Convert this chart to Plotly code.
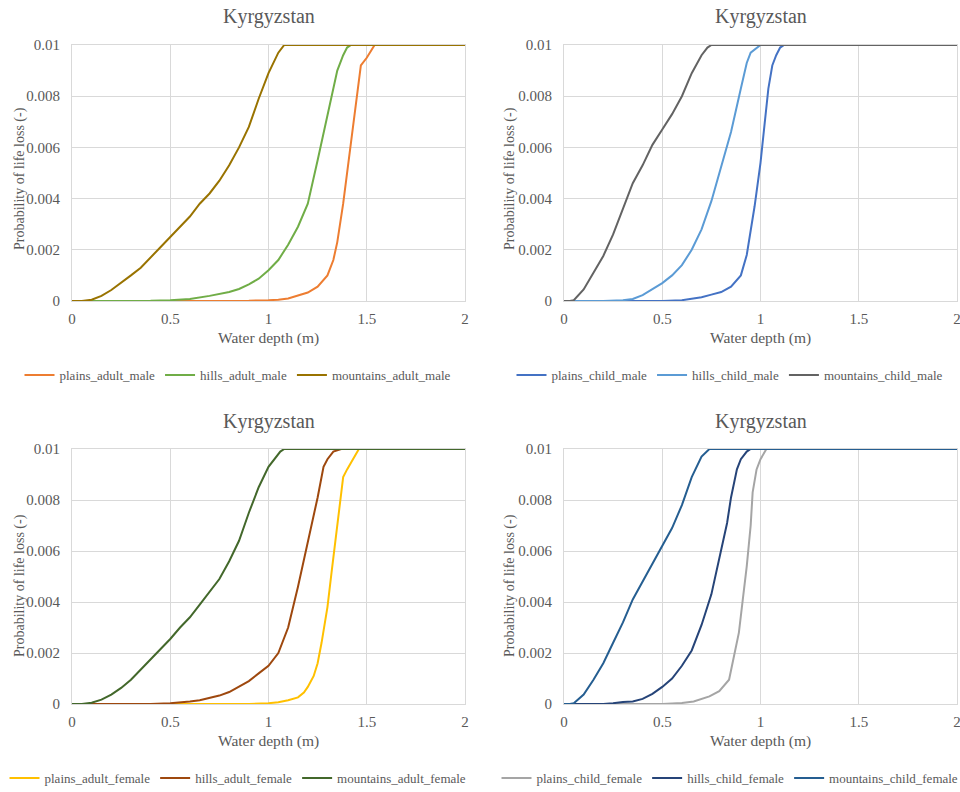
import plotly.graph_objects as go

# ---------------- data ----------------
x_ticks = [0, 0.5, 1, 1.5, 2]
x_tick_labels = ["0", "0.5", "1", "1.5", "2"]
y_ticks = [0, 0.002, 0.004, 0.006, 0.008, 0.01]
y_tick_labels = ["0", "0.002", "0.004", "0.006", "0.008", "0.01"]

chart_title = "Kyrgyzstan"
x_title = "Water depth (m)"
y_title = "Probability of life loss (-)"

# panel 1: adult male
plains_adult_male_x = [0, 0.8, 0.9, 1.0, 1.05, 1.1, 1.15, 1.2, 1.25, 1.3, 1.33, 1.35, 1.38, 1.4, 1.42, 1.45, 1.47, 1.5, 1.53, 1.54, 2.0]
plains_adult_male_y = [0, 0, 0.00001, 0.00003, 0.00005, 0.0001, 0.0002, 0.00033, 0.00056, 0.001, 0.0016, 0.0023, 0.0038, 0.005, 0.0062, 0.0079, 0.0092, 0.0095, 0.0099, 0.01, 0.01]
hills_adult_male_x = [0, 0.3, 0.4, 0.5, 0.6, 0.7, 0.75, 0.8, 0.85, 0.9, 0.95, 1.0, 1.05, 1.1, 1.15, 1.2, 1.25, 1.3, 1.33, 1.35, 1.38, 1.4, 1.42, 2.0]
hills_adult_male_y = [0, 0, 0.00001, 0.00003, 0.00008, 0.0002, 0.00028, 0.00035, 0.00047, 0.00065, 0.00087, 0.0012, 0.0016, 0.0022, 0.0029, 0.0038, 0.0055, 0.0072, 0.0083, 0.009, 0.0096, 0.0099, 0.01, 0.01]
mountains_adult_male_x = [0, 0.05, 0.1, 0.15, 0.2, 0.25, 0.3, 0.35, 0.4, 0.45, 0.5, 0.55, 0.6, 0.65, 0.7, 0.75, 0.8, 0.85, 0.9, 0.95, 1.0, 1.05, 1.08, 2.0]
mountains_adult_male_y = [0, 0, 0.00005, 0.0002, 0.00043, 0.0007, 0.001, 0.0013, 0.00168, 0.0021, 0.0025, 0.0029, 0.0033, 0.0038, 0.0042, 0.0047, 0.0053, 0.006, 0.0068, 0.0079, 0.0089, 0.0097, 0.01, 0.01]

# panel 2: child male
plains_child_male_x = [0, 0.5, 0.6, 0.65, 0.7, 0.75, 0.8, 0.85, 0.9, 0.93, 0.95, 0.97, 1.0, 1.02, 1.04, 1.06, 1.08, 1.1, 1.12, 2.0]
plains_child_male_y = [0, 0, 0.00003, 0.00008, 0.00015, 0.00025, 0.00035, 0.00056, 0.001, 0.0018, 0.0027, 0.0037, 0.0054, 0.0068, 0.0083, 0.0092, 0.0096, 0.0099, 0.01, 0.01]
hills_child_male_x = [0, 0.2, 0.3, 0.35, 0.4, 0.45, 0.5, 0.55, 0.6, 0.65, 0.7, 0.75, 0.8, 0.85, 0.9, 0.93, 0.95, 0.98, 1.0, 2.0]
hills_child_male_y = [0, 0, 0.00003, 0.00008, 0.00023, 0.00045, 0.0007, 0.001, 0.0014, 0.002, 0.0028, 0.0039, 0.0052, 0.0066, 0.0083, 0.0093, 0.0097, 0.0099, 0.01, 0.01]
mountains_child_male_x = [0, 0.03, 0.05, 0.1, 0.15, 0.2, 0.25, 0.3, 0.35, 0.4, 0.45, 0.5, 0.55, 0.6, 0.65, 0.7, 0.73, 0.75, 2.0]
mountains_child_male_y = [0, 0, 0.00003, 0.00045, 0.0011, 0.00176, 0.0026, 0.0036, 0.0046, 0.0053, 0.0061, 0.0067, 0.0073, 0.008, 0.0089, 0.0096, 0.0099, 0.01, 0.01]

# panel 3: adult female
plains_adult_female_x = [0, 0.9, 1.0, 1.05, 1.1, 1.15, 1.18, 1.2, 1.23, 1.25, 1.27, 1.3, 1.32, 1.35, 1.38, 1.4, 1.43, 1.46, 2.0]
plains_adult_female_y = [0, 0, 0.00003, 0.00007, 0.00015, 0.00026, 0.00045, 0.00067, 0.0011, 0.0016, 0.0024, 0.0038, 0.0051, 0.0071, 0.0089, 0.0092, 0.0096, 0.01, 0.01]
hills_adult_female_x = [0, 0.4, 0.5, 0.55, 0.6, 0.65, 0.7, 0.75, 0.8, 0.85, 0.9, 0.95, 1.0, 1.05, 1.1, 1.15, 1.2, 1.25, 1.28, 1.3, 1.33, 1.37, 2.0]
hills_adult_female_y = [0, 0, 0.00003, 0.00006, 0.0001, 0.00015, 0.00023, 0.00033, 0.00047, 0.00067, 0.0009, 0.0012, 0.0015, 0.002, 0.003, 0.0046, 0.0063, 0.0081, 0.0093, 0.0096, 0.0099, 0.01, 0.01]
mountains_adult_female_x = [0, 0.05, 0.1, 0.15, 0.2, 0.25, 0.3, 0.35, 0.4, 0.45, 0.5, 0.55, 0.6, 0.65, 0.7, 0.75, 0.8, 0.85, 0.9, 0.95, 1.0, 1.03, 1.06, 1.08, 2.0]
mountains_adult_female_y = [0, 0, 0.00005, 0.00017, 0.00037, 0.00063, 0.00095, 0.00135, 0.00175, 0.00215, 0.00255, 0.003, 0.0034, 0.0039, 0.0044, 0.0049, 0.0056, 0.0064, 0.0075, 0.0085, 0.0093, 0.0096, 0.0099, 0.01, 0.01]

# panel 4: child female
plains_child_female_x = [0, 0.5, 0.6, 0.66, 0.74, 0.79, 0.84, 0.86, 0.89, 0.91, 0.93, 0.95, 0.96, 0.98, 1.0, 1.03, 2.0]
plains_child_female_y = [0, 0, 0.00004, 0.0001, 0.0003, 0.0005, 0.00095, 0.0017, 0.0028, 0.0041, 0.0054, 0.007, 0.0083, 0.0092, 0.0096, 0.01, 0.01]
hills_child_female_x = [0, 0.2, 0.25, 0.3, 0.35, 0.4, 0.45, 0.5, 0.55, 0.6, 0.65, 0.7, 0.75, 0.8, 0.83, 0.85, 0.88, 0.9, 0.93, 0.95, 2.0]
hills_child_female_y = [0, 0, 0.00003, 0.00008, 0.0001, 0.0002, 0.0004, 0.00067, 0.001, 0.0015, 0.0021, 0.0031, 0.0043, 0.006, 0.0071, 0.0081, 0.0092, 0.0096, 0.0099, 0.01, 0.01]
mountains_child_female_x = [0, 0.03, 0.05, 0.1, 0.15, 0.2, 0.25, 0.3, 0.35, 0.4, 0.45, 0.5, 0.55, 0.6, 0.65, 0.7, 0.73, 0.74, 2.0]
mountains_child_female_y = [0, 0, 0.00003, 0.00037, 0.00095, 0.0016, 0.0024, 0.0032, 0.0041, 0.0048, 0.0055, 0.0062, 0.0069, 0.0078, 0.0089, 0.0097, 0.0099, 0.01, 0.01]

panels = [
    [("plains_adult_male", plains_adult_male_x, plains_adult_male_y, "#ed7d31"),
     ("hills_adult_male", hills_adult_male_x, hills_adult_male_y, "#70ad47"),
     ("mountains_adult_male", mountains_adult_male_x, mountains_adult_male_y, "#997300")],
    [("plains_child_male", plains_child_male_x, plains_child_male_y, "#4472c4"),
     ("hills_child_male", hills_child_male_x, hills_child_male_y, "#5b9bd5"),
     ("mountains_child_male", mountains_child_male_x, mountains_child_male_y, "#636363")],
    [("plains_adult_female", plains_adult_female_x, plains_adult_female_y, "#ffc000"),
     ("hills_adult_female", hills_adult_female_x, hills_adult_female_y, "#9e480e"),
     ("mountains_adult_female", mountains_adult_female_x, mountains_adult_female_y, "#43682b")],
    [("plains_child_female", plains_child_female_x, plains_child_female_y, "#a5a5a5"),
     ("hills_child_female", hills_child_female_x, hills_child_female_y, "#264478"),
     ("mountains_child_female", mountains_child_female_x, mountains_child_female_y, "#255e91")],
]

# ---------------- layout geometry (pixels) ----------------
W, H = 960, 792
boxes = [  # (left, right, top, bottom) in pixels
    (72, 465, 45, 301),
    (564, 957, 45, 301),
    (72, 465, 449, 704),
    (564, 957, 449, 704),
]
title_y_px = [17, 17, 421, 421]
xtitle_y_px = [338, 338, 741, 741]
ytitle_x_px = [20, 510, 20, 510]
ytitle_y_px = [179, 179, 586, 586]
legend_x_px = [238, 730, 238, 730]
legend_y_px = [375, 375, 778, 778]

FONT = "Liberation Serif"
TXT = "#595959"
GRID = "#d9d9d9"

fig = go.Figure()
layout = dict(
    width=W, height=H,
    margin=dict(l=0, r=0, t=0, b=0, autoexpand=False),
    paper_bgcolor="white", plot_bgcolor="white",
    font=dict(family=FONT, color=TXT, size=12),
    showlegend=True,
    annotations=[],
)

for i, (series, box) in enumerate(zip(panels, boxes)):
    n = i + 1
    xa = "x" if n == 1 else f"x{n}"
    ya = "y" if n == 1 else f"y{n}"
    lg = "legend" if n == 1 else f"legend{n}"
    for name, xs, ys, col in series:
        fig.add_trace(go.Scatter(
            x=xs, y=ys, mode="lines", name=name,
            line=dict(color=col, width=2),
            xaxis=xa, yaxis=ya, legend=lg,
        ))
    l, r, t, b = box
    xkey = "xaxis" if n == 1 else f"xaxis{n}"
    ykey = "yaxis" if n == 1 else f"yaxis{n}"
    layout[xkey] = dict(
        domain=[l / W, r / W], anchor=ya, range=[0, 2],
        tickvals=x_ticks, ticktext=x_tick_labels,
        showgrid=True, gridcolor=GRID, gridwidth=1,
        showline=True, linecolor=GRID, linewidth=1, mirror=True,
        zeroline=False, ticks="", automargin=False,
        ticklabelstandoff=4, ticklabeloverflow="allow",
        tickfont=dict(size=15, color=TXT, family=FONT),
    )
    layout[ykey] = dict(
        domain=[1 - b / H, 1 - t / H], anchor=xa, range=[0, 0.01],
        tickvals=y_ticks, ticktext=y_tick_labels,
        showgrid=True, gridcolor=GRID, gridwidth=1,
        showline=True, linecolor=GRID, linewidth=1, mirror=True,
        zeroline=False, ticks="", automargin=False,
        ticklabelstandoff=8,
        tickfont=dict(size=15, color=TXT, family=FONT),
    )
    layout[lg] = dict(
        orientation="h", x=legend_x_px[i] / W, xanchor="center",
        y=1 - legend_y_px[i] / H, yanchor="middle",
        font=dict(size=13, color=TXT, family=FONT),
        bgcolor="rgba(0,0,0,0)", itemwidth=30, tracegroupgap=0,
    )
    layout["annotations"] += [
        dict(text=chart_title, xref="paper", yref="paper",
             x=(l + r) / 2 / W, y=1 - title_y_px[i] / H,
             xanchor="center", yanchor="middle", showarrow=False,
             font=dict(size=20, color=TXT, family=FONT)),
        dict(text=x_title, xref="paper", yref="paper",
             x=(l + r) / 2 / W, y=1 - xtitle_y_px[i] / H,
             xanchor="center", yanchor="middle", showarrow=False,
             font=dict(size=15.5, color=TXT, family=FONT)),
        dict(text=y_title, xref="paper", yref="paper", textangle=-90,
             x=ytitle_x_px[i] / W, y=1 - ytitle_y_px[i] / H,
             xanchor="center", yanchor="middle", showarrow=False,
             font=dict(size=14, color=TXT, family=FONT)),
    ]

fig.update_layout(**layout)
fig.write_html("out.html")
